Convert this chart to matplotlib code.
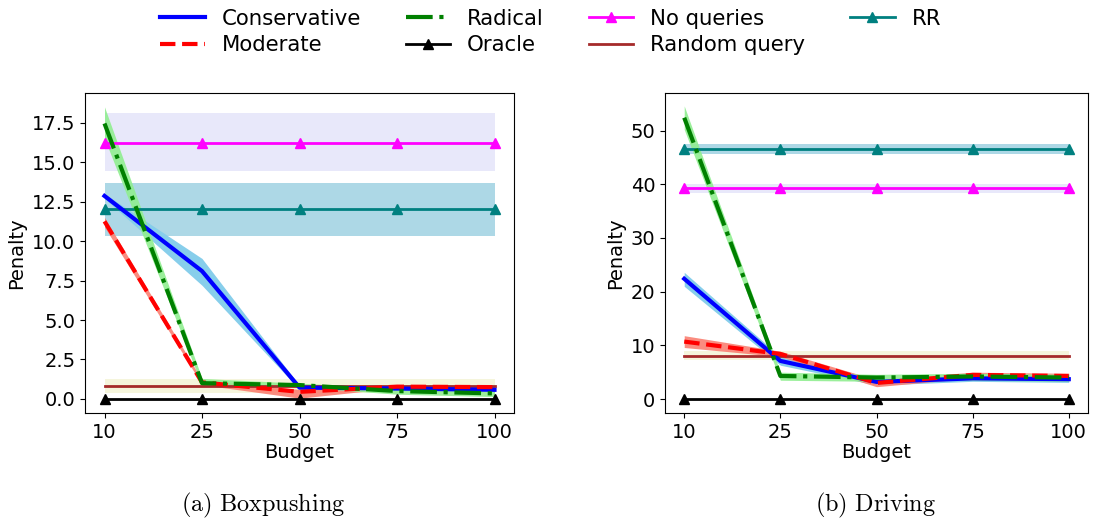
import numpy as np
import matplotlib.pyplot as plt

plt.rcParams['mathtext.fontset'] = 'cm'

budgets = ['10', '25', '50', '75', '100']

# Boxpushing
bp_cons = [12.86, 8.1, 0.72, 0.66, 0.58]
bp_cons_lo = [12.7, 7.2, 0.6, 0.55, 0.48]
bp_cons_hi = [13.0, 8.9, 0.85, 0.76, 0.68]
bp_mod = [11.25, 1.05, 0.45, 0.78, 0.75]
bp_mod_lo = [10.9, 0.9, 0.05, 0.7, 0.65]
bp_mod_hi = [11.5, 1.2, 0.6, 0.88, 0.85]
bp_rad = [17.45, 1.0, 0.88, 0.5, 0.35]
bp_rad_lo = [16.5, 0.85, 0.75, 0.3, 0.15]
bp_rad_hi = [18.5, 1.3, 1.0, 0.7, 0.5]
bp_noq = [16.23] * 5
bp_noq_lo = [14.46] * 5
bp_noq_hi = [18.09] * 5
bp_rr = [12.01] * 5
bp_rr_lo = [10.34] * 5
bp_rr_hi = [13.7] * 5
bp_rand = [0.82] * 5
bp_rand_lo = [0.36] * 5
bp_rand_hi = [1.27] * 5
bp_oracle = [0, 0, 0, 0, 0]

# Driving
dr_cons = [22.4, 7.1, 3.2, 3.85, 3.7]
dr_cons_lo = [21.0, 6.3, 2.6, 3.3, 3.1]
dr_cons_hi = [23.6, 7.9, 3.8, 4.3, 4.2]
dr_mod = [10.7, 8.4, 3.0, 4.5, 4.3]
dr_mod_lo = [9.6, 7.9, 2.3, 3.9, 3.8]
dr_mod_hi = [11.8, 8.9, 3.6, 5.0, 4.8]
dr_rad = [52.4, 4.3, 4.0, 4.2, 4.0]
dr_rad_lo = [50.2, 3.5, 3.3, 3.5, 3.3]
dr_rad_hi = [54.6, 5.0, 4.6, 4.8, 4.6]
dr_noq = [39.25] * 5
dr_noq_lo = [38.4] * 5
dr_noq_hi = [40.1] * 5
dr_rr = [46.6] * 5
dr_rr_lo = [45.7] * 5
dr_rr_hi = [47.5] * 5
dr_rand = [8.1] * 5
dr_rand_lo = [7.3] * 5
dr_rand_hi = [8.9] * 5
dr_oracle = [0, 0, 0, 0, 0]

fig = plt.figure(figsize=(11.01, 5.22), dpi=100)
ax1 = fig.add_axes([85 / 1101, 1 - 413 / 522, 429 / 1101, 320 / 522])
ax2 = fig.add_axes([665 / 1101, 1 - 413 / 522, 423 / 1101, 320 / 522])
x = np.arange(len(budgets))


def draw(ax, cons, cons_lo, cons_hi, mod, mod_lo, mod_hi, rad, rad_lo, rad_hi,
         noq, noq_lo, noq_hi, rr, rr_lo, rr_hi, rand, rand_lo, rand_hi, oracle):
    ax.fill_between(x, noq_lo, noq_hi, color='lavender', alpha=0.9, lw=0)
    ax.fill_between(x, rr_lo, rr_hi, color='lightblue', alpha=1.0, lw=0)
    ax.fill_between(x, rand_lo, rand_hi, color='beige', alpha=1.0, lw=0)
    ax.fill_between(x, cons_lo, cons_hi, color='skyblue', alpha=1.0, lw=0)
    ax.fill_between(x, mod_lo, mod_hi, color='salmon', alpha=0.9, lw=0)
    ax.fill_between(x, rad_lo, rad_hi, color='lightgreen', alpha=0.9, lw=0)
    ax.plot(x, noq, color='magenta', lw=2, marker='^', ms=7, label='No queries')
    ax.plot(x, rr, color='teal', lw=2, marker='^', ms=7, label='RR')
    ax.plot(x, rand, color='brown', lw=2, label='Random query')
    ax.plot(x, oracle, color='black', lw=2, marker='^', ms=7, label='Oracle')
    ax.plot(x, cons, color='blue', lw=3, label='Conservative')
    ax.plot(x, mod, color='red', lw=3, ls='--', label='Moderate')
    ax.plot(x, rad, color='green', lw=3, ls='-.', label='Radical')
    ax.set_xticks(x)
    ax.set_xticklabels(budgets)
    ax.set_xlim(-0.2, 4.2)
    ax.set_xlabel('Budget', fontsize=14, labelpad=1)
    ax.set_ylabel('Penalty', fontsize=14)
    ax.tick_params(labelsize=14)


draw(ax1, bp_cons, bp_cons_lo, bp_cons_hi, bp_mod, bp_mod_lo, bp_mod_hi,
     bp_rad, bp_rad_lo, bp_rad_hi, bp_noq, bp_noq_lo, bp_noq_hi,
     bp_rr, bp_rr_lo, bp_rr_hi, bp_rand, bp_rand_lo, bp_rand_hi, bp_oracle)
draw(ax2, dr_cons, dr_cons_lo, dr_cons_hi, dr_mod, dr_mod_lo, dr_mod_hi,
     dr_rad, dr_rad_lo, dr_rad_hi, dr_noq, dr_noq_lo, dr_noq_hi,
     dr_rr, dr_rr_lo, dr_rr_hi, dr_rand, dr_rand_lo, dr_rand_hi, dr_oracle)
ax1.set_ylim(-0.89, 19.38)
ax1.set_yticks([0, 2.5, 5, 7.5, 10, 12.5, 15, 17.5])
ax2.set_ylim(-2.6, 57.0)
ax2.set_yticks([0, 10, 20, 30, 40, 50])

h, l = ax1.get_legend_handles_labels()
order = ['Conservative', 'Moderate', 'Radical', 'Oracle', 'No queries', 'Random query', 'RR']
hs = [h[l.index(n)] for n in order]
fig.legend(hs, order, loc='upper center', bbox_to_anchor=(0.5, 1.02), ncol=4,
           frameon=False, fontsize=15.3, handlelength=2.1, handletextpad=0.8,
           columnspacing=2.1, labelspacing=0.3)

fig.text(263 / 1101, 1 - 505 / 522, r'$\mathrm{(a)\ Boxpushing}$', ha='center', va='center', fontsize=17.5)
fig.text(876 / 1101, 1 - 505 / 522, r'$\mathrm{(b)\ Driving}$', ha='center', va='center', fontsize=17.5)

fig.savefig('out.png', dpi=100)
